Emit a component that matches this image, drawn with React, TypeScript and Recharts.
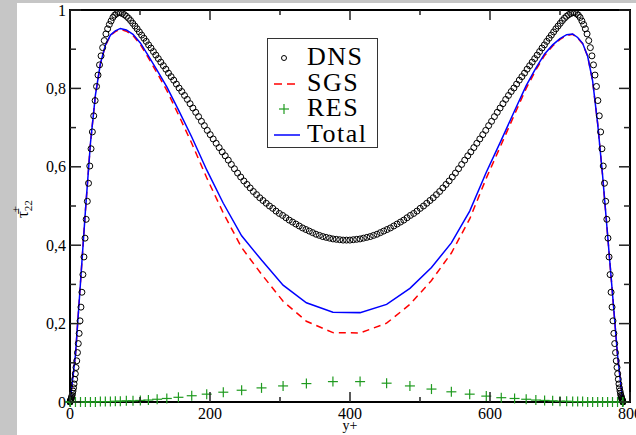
import { ComposedChart, Line, Scatter, XAxis, YAxis, ReferenceArea, Legend } from 'recharts';

// plot frame in page pixels (layout only)
const PLOT = { left: 70, right: 630, top: 10, bottom: 402 };
const SERIF = 'Liberation Serif, DejaVu Serif, Times New Roman, serif';

const xTicks = [0, 100, 200, 300, 400, 500, 600, 700, 800];
const yTicks = [0, 0.1, 0.2, 0.3, 0.4, 0.5, 0.6, 0.7, 0.8, 0.9, 1];

// DNS, wall -> centreline (y+)
const dnsLeftPos = [
  0, 0.03, 0.12, 0.27, 0.48, 0.74, 1.07, 1.46, 1.9, 2.41,
  2.97, 3.59, 4.28, 5.02, 5.82, 6.67, 7.59, 8.57, 9.6, 10.69,
  11.84, 13.04, 14.31, 15.63, 17.01, 18.44, 19.93, 21.48, 23.09, 24.75,
  26.47, 28.24, 30.07, 31.95, 33.89, 35.88, 37.92, 40.02, 42.18, 44.38,
  46.64, 48.95, 51.32, 53.73, 56.2, 58.71, 61.28, 63.9, 66.57, 69.29,
  72.06, 74.87, 77.73, 80.64, 83.6, 86.61, 89.66, 92.76, 95.9, 99.09,
  102.33, 105.6, 108.92, 112.29, 115.69, 119.14, 122.63, 126.16, 129.73, 133.34,
  137, 140.69, 144.42, 148.18, 151.99, 155.82, 159.7, 163.61, 167.56, 171.54,
  175.56, 179.6, 183.68, 187.79, 191.93, 196.1, 200.3, 204.54, 208.8, 213.08,
  217.4, 221.75, 226.12, 230.51, 234.92, 239.38, 243.84, 248.33, 252.84, 257.37,
  261.93, 266.5, 271.1, 275.71, 280.34, 284.98, 289.65, 294.32, 299.02, 303.73,
  308.46, 313.19, 317.94, 322.69, 327.47, 332.25, 337.04, 341.84, 346.65, 351.46,
  356.28, 361.11, 365.94, 370.77, 375.62, 380.46, 385.31, 390.15, 395,
];
const dnsLeftVal = [
  0, 0, 0.001, 0.001, 0.002, 0.004, 0.005, 0.007, 0.01, 0.013,
  0.017, 0.022, 0.028, 0.036, 0.046, 0.058, 0.072, 0.088, 0.105, 0.126,
  0.149, 0.175, 0.207, 0.242, 0.28, 0.325, 0.37, 0.418, 0.466, 0.512,
  0.558, 0.602, 0.646, 0.689, 0.73, 0.769, 0.805, 0.834, 0.86, 0.883,
  0.904, 0.922, 0.939, 0.952, 0.963, 0.972, 0.981, 0.987, 0.991, 0.993,
  0.993, 0.991, 0.988, 0.984, 0.979, 0.973, 0.966, 0.959, 0.952, 0.944,
  0.936, 0.928, 0.92, 0.911, 0.903, 0.894, 0.885, 0.876, 0.867, 0.858,
  0.849, 0.839, 0.83, 0.821, 0.811, 0.801, 0.792, 0.782, 0.772, 0.761,
  0.75, 0.739, 0.728, 0.716, 0.705, 0.693, 0.682, 0.671, 0.66, 0.649,
  0.638, 0.628, 0.617, 0.606, 0.595, 0.584, 0.574, 0.564, 0.555, 0.546,
  0.537, 0.529, 0.521, 0.514, 0.507, 0.5, 0.494, 0.487, 0.481, 0.476,
  0.47, 0.464, 0.459, 0.454, 0.449, 0.444, 0.44, 0.436, 0.432, 0.428,
  0.425, 0.422, 0.42, 0.418, 0.416, 0.415, 0.414, 0.413, 0.413,
];
// DNS, centreline -> upper wall
const dnsRightPos = [
  399.85, 404.69, 409.54, 414.38, 419.23, 424.06, 428.89, 433.72, 438.54, 443.35,
  448.16, 452.96, 457.75, 462.53, 467.31, 472.06, 476.81, 481.54, 486.27, 490.98,
  495.68, 500.35, 505.02, 509.66, 514.29, 518.9, 523.5, 528.07, 532.63, 537.16,
  541.67, 546.16, 550.62, 555.08, 559.49, 563.88, 568.25, 572.6, 576.92, 581.2,
  585.46, 589.7, 593.9, 598.07, 602.21, 606.32, 610.4, 614.44, 618.46, 622.44,
  626.39, 630.3, 634.18, 638.01, 641.82, 645.58, 649.31, 653, 656.66, 660.27,
  663.84, 667.37, 670.86, 674.31, 677.71, 681.08, 684.4, 687.67, 690.91, 694.1,
  697.24, 700.34, 703.39, 706.4, 709.36, 712.27, 715.13, 717.94, 720.71, 723.43,
  726.1, 728.72, 731.29, 733.8, 736.27, 738.68, 741.05, 743.36, 745.62, 747.82,
  749.98, 752.08, 754.12, 756.11, 758.05, 759.93, 761.76, 763.53, 765.25, 766.91,
  768.52, 770.07, 771.56, 772.99, 774.37, 775.69, 776.96, 778.16, 779.31, 780.4,
  781.43, 782.41, 783.33, 784.18, 784.98, 785.72, 786.41, 787.03, 787.59, 788.1,
  788.54, 788.93, 789.26, 789.52, 789.73, 789.88, 789.97, 790,
];
const dnsRightVal = [
  0.413, 0.414, 0.415, 0.416, 0.418, 0.42, 0.422, 0.425, 0.428, 0.432,
  0.436, 0.44, 0.444, 0.449, 0.454, 0.459, 0.464, 0.47, 0.476, 0.481,
  0.487, 0.494, 0.5, 0.507, 0.514, 0.521, 0.529, 0.537, 0.546, 0.555,
  0.564, 0.574, 0.584, 0.595, 0.606, 0.617, 0.628, 0.638, 0.649, 0.66,
  0.671, 0.682, 0.693, 0.705, 0.716, 0.728, 0.739, 0.75, 0.761, 0.772,
  0.782, 0.792, 0.801, 0.811, 0.821, 0.83, 0.839, 0.849, 0.858, 0.867,
  0.876, 0.885, 0.894, 0.903, 0.911, 0.92, 0.928, 0.936, 0.944, 0.952,
  0.959, 0.966, 0.973, 0.979, 0.984, 0.988, 0.991, 0.993, 0.993, 0.991,
  0.987, 0.981, 0.972, 0.963, 0.952, 0.939, 0.922, 0.904, 0.883, 0.86,
  0.834, 0.805, 0.769, 0.73, 0.689, 0.646, 0.602, 0.558, 0.512, 0.466,
  0.418, 0.37, 0.325, 0.28, 0.242, 0.207, 0.175, 0.149, 0.126, 0.105,
  0.088, 0.072, 0.058, 0.046, 0.036, 0.028, 0.022, 0.017, 0.013, 0.01,
  0.007, 0.005, 0.004, 0.002, 0.001, 0.001, 0, 0,
];

// LES grid and the three LES profiles
const lesPos = [
  0, 0.7, 7.8, 15, 22, 29.2, 36.3, 43.4, 50.5, 57.7, 64.8, 71.9, 80.5, 90,
  100.5, 112, 124.5, 138.3, 154.9, 173.9, 195.3, 219, 245.2, 273.6, 304.4, 337.7, 375.6,
  414.4, 452.3, 485.6, 516.4, 544.8, 571, 594.7, 616.1, 635.1, 651.7, 665.5, 678, 689.5,
  700, 709.5, 718.1, 725.2, 732.3, 739.5, 746.6, 753.8, 760.8, 768, 775, 782.2, 789.3, 790,
];
const totalVal = [
  0, 0.01, 0.12, 0.305, 0.487, 0.66, 0.783, 0.863, 0.91, 0.936, 0.947, 0.953, 0.949, 0.938,
  0.916, 0.883, 0.846, 0.804, 0.745, 0.676, 0.592, 0.507, 0.424, 0.362, 0.298, 0.253, 0.229,
  0.228, 0.249, 0.29, 0.343, 0.406, 0.487, 0.586, 0.668, 0.743, 0.807, 0.852, 0.888, 0.911,
  0.927, 0.937, 0.939, 0.93, 0.915, 0.882, 0.819, 0.71, 0.579, 0.426, 0.276, 0.12, 0.005, 0,
];
const sgsVal = [
  0, 0.01, 0.12, 0.305, 0.487, 0.66, 0.783, 0.862, 0.909, 0.935, 0.945, 0.951, 0.946, 0.935,
  0.912, 0.878, 0.839, 0.795, 0.733, 0.66, 0.572, 0.482, 0.394, 0.326, 0.257, 0.206, 0.177,
  0.176, 0.201, 0.249, 0.31, 0.38, 0.467, 0.571, 0.657, 0.734, 0.8, 0.847, 0.884, 0.908,
  0.925, 0.935, 0.938, 0.929, 0.914, 0.882, 0.819, 0.71, 0.579, 0.426, 0.276, 0.12, 0.005, 0,
];
const resVal = [
  0, 0, 0, 0, 0, 0, 0, 0.001, 0.001, 0.001, 0.002, 0.002, 0.003, 0.003,
  0.004, 0.005, 0.007, 0.009, 0.012, 0.016, 0.02, 0.025, 0.03, 0.036, 0.041, 0.047, 0.052,
  0.052, 0.048, 0.041, 0.033, 0.026, 0.02, 0.015, 0.011, 0.009, 0.007, 0.005, 0.004, 0.003,
  0.002, 0.002, 0.001, 0.001, 0.001, 0, 0, 0, 0, 0, 0, 0, 0, 0,
];

const toPoints = (xs: number[], ys: number[]) =>
  xs.slice(0, Math.min(xs.length, ys.length)).map((x, i) => ({ x, y: ys[i] }));

const dnsData = [...toPoints(dnsLeftPos, dnsLeftVal), ...toPoints(dnsRightPos, dnsRightVal)];
const sgsData = toPoints(lesPos, sgsVal);
const resData = toPoints(lesPos, resVal);
const totalData = toPoints(lesPos, totalVal);

const GREEN = '#1f9a1f';

const Circle = (p: any) => <circle cx={p.cx} cy={p.cy} r={3} fill="none" stroke="#000" strokeWidth={1} />;
const Plus = (p: any) => (
  <g stroke={GREEN} strokeWidth={1.2}>
    <line x1={p.cx - 5} x2={p.cx + 5} y1={p.cy} y2={p.cy} />
    <line x1={p.cx} x2={p.cx} y1={p.cy - 5} y2={p.cy + 5} />
  </g>
);

const XTick = (p: any) => {
  const v = p.payload.value;
  const major = v % 200 === 0;
  const len = major ? 10 : 5;
  return (
    <g>
      <line x1={p.x} x2={p.x} y1={PLOT.bottom} y2={PLOT.bottom - len} stroke="#222" strokeWidth={1.5} />
      <line x1={p.x} x2={p.x} y1={PLOT.top} y2={PLOT.top + len} stroke="#222" strokeWidth={1.5} />
      {major && (
        <text x={p.x} y={PLOT.bottom + 17} textAnchor="middle" style={{ fontFamily: SERIF }} fontSize={16} fill="#000">
          {v}
        </text>
      )}
    </g>
  );
};

const YTick = (p: any) => {
  const v = p.payload.value;
  const major = Math.round(v * 10) % 2 === 0;
  const len = major ? 11 : 6;
  const label = String(v).replace('.', ',');
  return (
    <g>
      <line x1={PLOT.left} x2={PLOT.left + len} y1={p.y} y2={p.y} stroke="#222" strokeWidth={1.5} />
      <line x1={PLOT.right} x2={PLOT.right - len} y1={p.y} y2={p.y} stroke="#222" strokeWidth={1.5} />
      {major && (
        <text x={66} y={p.y + 5.5} textAnchor="end" style={{ fontFamily: SERIF }} fontSize={16} fill="#000">
          {label}
        </text>
      )}
    </g>
  );
};

const YLabel = () => (
  <text transform="translate(28,218) rotate(-90)" style={{ fontFamily: SERIF }} fontSize={17} fill="#000">
    <tspan>τ̄</tspan>
    <tspan dy={4} fontSize={11}>22</tspan>
    <tspan dx={-12} dy={-13} fontSize={11}>+</tspan>
  </text>
);

const XLabel = () => (
  <text x={(PLOT.left + PLOT.right) / 2} y={430} textAnchor="middle" style={{ fontFamily: SERIF }} fontSize={14} fill="#000">
    y+
  </text>
);

const legendItems = [
  { name: 'DNS', kind: 'circle' },
  { name: 'SGS', kind: 'dash' },
  { name: 'RES', kind: 'plus' },
  { name: 'Total', kind: 'line' },
];

const LegendIcon = ({ kind }: { kind: string }) => (
  <svg width={30} height={20} style={{ position: 'absolute', left: 4, top: 3 }}>
    {kind === 'circle' && <circle cx={12} cy={10} r={2.5} fill="none" stroke="#000" strokeWidth={1} />}
    {kind === 'dash' && <line x1={2} x2={26} y1={10} y2={10} stroke="#ff0000" strokeWidth={1.5} strokeDasharray="8 5" />}
    {kind === 'plus' && (
      <g stroke={GREEN} strokeWidth={1.2}>
        <line x1={7} x2={17} y1={10} y2={10} />
        <line x1={12} x2={12} y1={5} y2={15} />
      </g>
    )}
    {kind === 'line' && <line x1={2} x2={28} y1={10} y2={10} stroke="#0000ff" strokeWidth={1.5} />}
  </svg>
);

const LegendBox = () => (
  <div
    style={{
      position: 'relative',
      width: 111,
      height: 110,
      boxSizing: 'border-box',
      border: '1.5px solid #333',
      background: '#fff',
    }}
  >
    {legendItems.map((it, i) => (
      <div key={it.name} style={{ position: 'absolute', left: 0, top: 6 + i * 25.5, width: 108, height: 25 }}>
        <LegendIcon kind={it.kind} />
        <span
          style={{
            position: 'absolute',
            left: 39,
            top: 0,
            fontFamily: SERIF,
            fontSize: 26,
            lineHeight: '24px',
            letterSpacing: 1.5,
            color: '#000',
            whiteSpace: 'nowrap',
          }}
        >
          {it.name}
        </span>
      </div>
    ))}
  </div>
);

export default function App() {
  return (
    <div style={{ position: 'absolute', left: 0, top: 0, width: 636, height: 435, background: '#c6c6c6', overflow: 'hidden' }}>
      <div style={{ position: 'absolute', left: 17, top: 3, right: 0, bottom: 0, background: '#fff' }} />
      <div style={{ position: 'absolute', left: 0, top: 0 }}>
        <ComposedChart width={636} height={435} margin={{ top: 10, right: 6, left: 0, bottom: 0 }}>
          <XAxis
            type="number"
            dataKey="x"
            domain={[0, 800]}
            ticks={xTicks}
            interval={0}
            height={33}
            tickLine={false}
            axisLine={false}
            tick={<XTick />}
            label={<XLabel />}
          />
          <YAxis
            type="number"
            dataKey="y"
            domain={[0, 1]}
            ticks={yTicks}
            interval={0}
            width={70}
            tickLine={false}
            axisLine={false}
            tick={<YTick />}
            label={<YLabel />}
          />
          <ReferenceArea x1={0} x2={800} y1={0} y2={1} fill="#fff" fillOpacity={0} stroke="#000" strokeWidth={2} />
          <Scatter name="DNS" data={dnsData} dataKey="y" shape={Circle} isAnimationActive={false} />
          <Line name="SGS" data={sgsData} dataKey="y" type="linear" stroke="#ff0000" strokeWidth={1.5}
            strokeDasharray="7 5" dot={false} activeDot={false} isAnimationActive={false} />
          <Scatter name="RES" data={resData} dataKey="y" shape={Plus} isAnimationActive={false} />
          <Line name="Total" data={totalData} dataKey="y" type="linear" stroke="#0000ff" strokeWidth={1.5}
            dot={false} activeDot={false} isAnimationActive={false} />
          <Legend
            layout="vertical"
            align="center"
            verticalAlign="middle"
            content={() => <LegendBox />}
            wrapperStyle={{ left: 267, top: 38, width: 111, height: 110 }}
          />
        </ComposedChart>
      </div>
    </div>
  );
}
